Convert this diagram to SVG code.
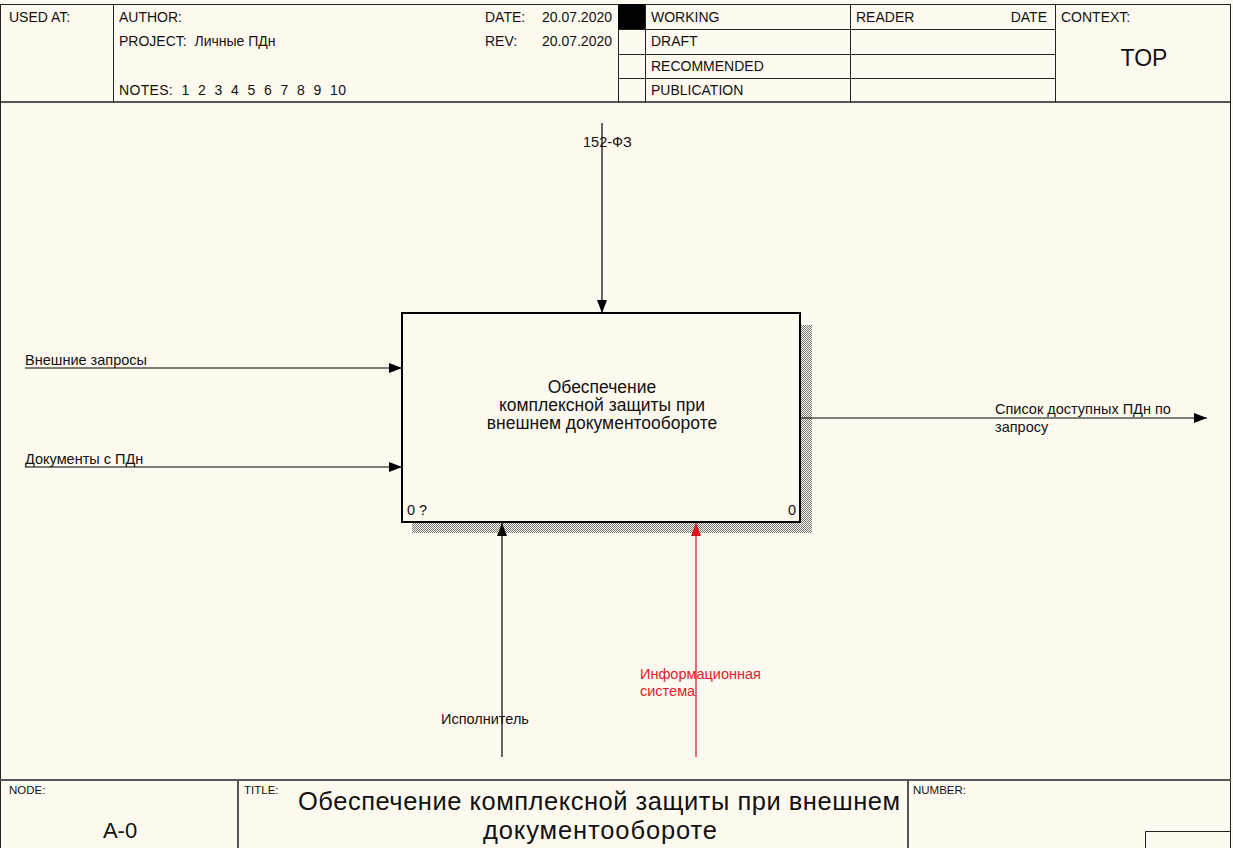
<svg xmlns="http://www.w3.org/2000/svg" width="1233" height="848" viewBox="0 0 1233 848">
<style>
text{font-family:"Liberation Sans",Arial,sans-serif;fill:#111}
.h{font-size:14px}
.s{font-size:11.5px}
.b{font-size:17.5px}
.l{font-size:14.5px}
.red{fill:#e0202a}
.fr{stroke:#222;stroke-width:1;fill:none}
.g{stroke:#555;stroke-width:2;fill:none}
.c{stroke:#000;stroke-width:1.2;fill:none}
</style>
<defs>
<pattern id="hatch" width="2" height="2" patternUnits="userSpaceOnUse">
<rect width="2" height="2" fill="#fffaf0"/>
<rect width="1" height="1" fill="#777"/>
<rect x="1" y="1" width="1" height="1" fill="#777"/>
</pattern>
<marker id="ah" markerWidth="13" markerHeight="10" refX="13" refY="5" orient="auto" markerUnits="userSpaceOnUse">
<path d="M0,0 L13,5 L0,10 Z" fill="#000"/>
</marker>
<marker id="ahr" markerWidth="13" markerHeight="10" refX="13" refY="5" orient="auto" markerUnits="userSpaceOnUse">
<path d="M0,0 L13,5 L0,10 Z" fill="#e0101a"/>
</marker>
</defs>
<rect x="0" y="0" width="1233" height="848" fill="#fffaf0"/>

<g id="header">
<line class="fr" x1="0" y1="4.5" x2="1231" y2="4.5"/>
<line class="g" x1="0" y1="102" x2="1231" y2="102"/>
<line class="fr" x1="113.5" y1="4" x2="113.5" y2="102"/>
<line class="fr" x1="618.5" y1="4" x2="618.5" y2="102"/>
<line class="fr" x1="645.5" y1="4" x2="645.5" y2="102"/>
<line class="fr" x1="850.5" y1="4" x2="850.5" y2="102"/>
<line class="fr" x1="1055.5" y1="4" x2="1055.5" y2="102"/>
<line class="fr" x1="618" y1="29.5" x2="1055" y2="29.5"/>
<line class="fr" x1="618" y1="54.5" x2="1055" y2="54.5"/>
<line class="fr" x1="618" y1="78.5" x2="1055" y2="78.5"/>
<rect x="618" y="4" width="27" height="25" fill="#000"/>
<text class="h" x="9" y="22">USED AT:</text>
<text class="h" x="119" y="22">AUTHOR:</text>
<text class="h" x="119" y="46" xml:space="preserve">PROJECT:  Личные ПДн</text>
<text class="h" x="119" y="95" textLength="227" xml:space="preserve">NOTES:  1  2  3  4  5  6  7  8  9  10</text>
<text class="h" x="485" y="22">DATE:</text>
<text class="h" x="612" y="22" text-anchor="end">20.07.2020</text>
<text class="h" x="485" y="46">REV:</text>
<text class="h" x="612" y="46" text-anchor="end">20.07.2020</text>
<text class="h" x="651" y="22">WORKING</text>
<text class="h" x="651" y="46">DRAFT</text>
<text class="h" x="651" y="71">RECOMMENDED</text>
<text class="h" x="651" y="95">PUBLICATION</text>
<text class="h" x="856" y="22">READER</text>
<text class="h" x="1047" y="22" text-anchor="end">DATE</text>
<text class="h" x="1061" y="22">CONTEXT:</text>
<text x="1144" y="66" font-size="23" text-anchor="middle">TOP</text>
</g>

<g id="frame">
<line class="fr" x1="1230.5" y1="4" x2="1230.5" y2="848"/>
<line class="fr" x1="0.5" y1="4" x2="0.5" y2="848"/>
</g>

<g id="footer">
<line class="g" x1="0" y1="780" x2="1231" y2="780"/>
<line class="g" x1="238" y1="780" x2="238" y2="848"/>
<line class="g" x1="908" y1="780" x2="908" y2="848"/>
<polyline class="fr" points="1145.5,848 1145.5,831.5 1231,831.5"/>
<text class="s" x="9" y="794">NODE:</text>
<text x="120" y="838" font-size="22" text-anchor="middle">A-0</text>
<text class="s" x="244" y="794">TITLE:</text>
<text x="298" y="810" font-size="25.5" textLength="602">Обеспечение комплексной защиты при внешнем</text>
<text x="483" y="839" font-size="25.5" textLength="234">документообороте</text>
<text class="s" x="913" y="794">NUMBER:</text>
</g>

<g id="node-A0">
<rect x="412" y="522" width="400" height="11" fill="url(#hatch)"/>
<rect x="800" y="325" width="12" height="208" fill="url(#hatch)"/>
<rect x="402" y="313" width="398" height="209" fill="#fffaf0" stroke="#000" stroke-width="2"/>
<text class="b" x="602" y="393" text-anchor="middle">Обеспечение</text>
<text class="b" x="602" y="411" text-anchor="middle">комплексной защиты при</text>
<text class="b" x="602" y="429" text-anchor="middle">внешнем документообороте</text>
<text class="l" x="407" y="515">0 ?</text>
<text class="l" x="788" y="515">0</text>
</g>

<g id="connectors">
<line class="c" x1="602" y1="123" x2="602" y2="313" marker-end="url(#ah)"/>
<line class="c" x1="25" y1="368" x2="402" y2="368" marker-end="url(#ah)"/>
<line class="c" x1="25" y1="467" x2="402" y2="467" marker-end="url(#ah)"/>
<line class="c" x1="801" y1="418" x2="1207" y2="418" marker-end="url(#ah)"/>
<line class="c" x1="502" y1="757" x2="502" y2="523" marker-end="url(#ah)"/>
<line x1="696" y1="757" x2="696" y2="523" stroke="#e0101a" stroke-width="1.2" marker-end="url(#ahr)"/>
</g>

<g id="labels">
<text class="l" x="583" y="147">152-ФЗ</text>
<text class="l" x="25" y="365">Внешние запросы</text>
<text class="l" x="25" y="464">Документы с ПДн</text>
<text class="l" x="995" y="414">Список доступных ПДн по</text>
<text class="l" x="995" y="432">запросу</text>
<text class="l" x="441" y="724">Исполнитель</text>
<text class="l red" x="640" y="679">Информационная</text>
<text class="l red" x="640" y="696">система</text>
</g>
</svg>
